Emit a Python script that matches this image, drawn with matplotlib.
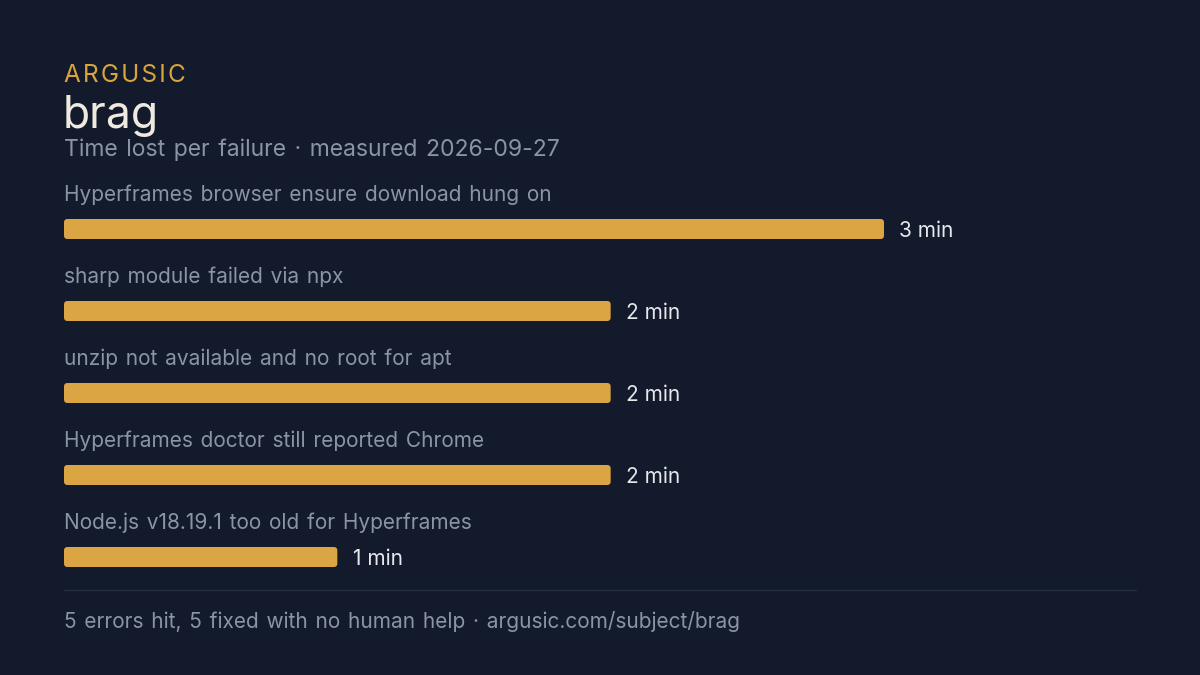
import matplotlib
matplotlib.use("Agg")
import matplotlib.pyplot as plt
from matplotlib.patches import FancyBboxPatch

plt.rcParams['font.family'] = ['Inter', 'DejaVu Sans']

# data
failures = [
    "Hyperframes browser ensure download hung on",
    "sharp module failed via npx",
    "unzip not available and no root for apt",
    "Hyperframes doctor still reported Chrome",
    "Node.js v18.19.1 too old for Hyperframes",
]
minutes = [3, 2, 2, 2, 1]
value_labels = ["3 min", "2 min", "2 min", "2 min", "1 min"]

brand = "ARGUSIC"
title = "brag"
subtitle = "Time lost per failure · measured 2026-09-27"
footer = "5 errors hit, 5 fixed with no human help · argusic.com/subject/brag"

BG = "#131a2b"
BAR = "#dba544"
GOLD = "#d9a53f"
TITLE_C = "#efeadf"
MUTED = "#8b94a7"
VALUE_C = "#e6e8ec"
RULE = "#262e42"


def wide(s):
    # the reference sets words a little further apart
    return s.replace(" ", " \u200a")


W, H = 1200, 675
fig = plt.figure(figsize=(12, 6.75), dpi=100, facecolor=BG)

# axes: x 0..3 min spans 64..884 px, rows 82 px apart
top, bottom = 188, 598
ax = fig.add_axes([64 / W, 1 - bottom / H, 820 / W, (bottom - top) / H])
ax.set_facecolor(BG)
ax.set_xlim(0, 3)
ax.set_ylim(len(minutes) - 0.5, -0.5)
ax.axis("off")

bar_h = 20 / 82
bars = ax.barh(range(len(minutes)), minutes, height=bar_h, color=BAR)
aspect = (1 / 82) / (3 / 820)
for b in bars:
    x0, y0 = b.get_x(), b.get_y()
    w, h = b.get_width(), b.get_height()
    b.set_visible(False)
    p = FancyBboxPatch((x0, y0), w, h,
                       boxstyle="round,pad=0,rounding_size=0.013",
                       mutation_aspect=aspect, fc=BAR, ec="none")
    ax.add_patch(p)

for i, (lab, v, vl) in enumerate(zip(failures, minutes, value_labels)):
    ax.text(0, i - 0.42, wide(lab), color=MUTED, fontsize=15, va="center", ha="left")
    ax.annotate(vl, xy=(v, i), xytext=(11, -1.5), textcoords="offset points",
                color=VALUE_C, fontsize=15, va="center", ha="left")

# header
brand_sp = "\u200a".join(brand)
fig.text(64 / W, 1 - 75 / H, brand_sp, color=GOLD, fontsize=17.5, va="center", ha="left")
fig.text(63 / W, 1 - 116 / H, title, color=TITLE_C, fontsize=32, va="center", ha="left")
fig.text(64 / W, 1 - 150 / H, wide(subtitle), color=MUTED, fontsize=16.5, va="center", ha="left")

# footer
fig.add_artist(plt.Line2D([64 / W, 1136 / W], [1 - 589.5 / H] * 2, color=RULE, lw=1))
fig.text(64 / W, 1 - 621 / H, wide(footer), color=MUTED, fontsize=15, va="center", ha="left")

fig.savefig("out.png", dpi=100, facecolor=BG)
